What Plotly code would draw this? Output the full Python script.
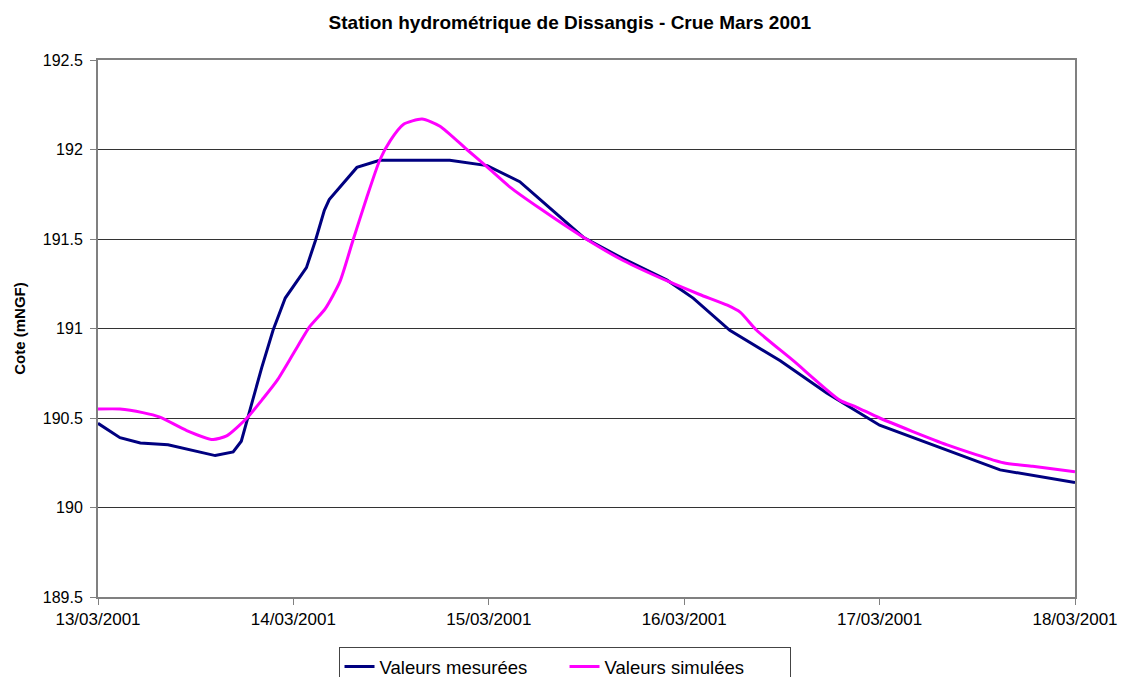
import pandas as pd
import plotly.graph_objects as go

# Hours elapsed since 13/03/2001 00:00 and water level (m NGF)
mes_hours = [0, 2.7, 5.2, 8.6, 14.4, 16.6, 17.6, 19.0, 20.1, 21.5, 23.0, 25.6, 26.7,
             27.8, 28.4, 31.8, 34.6, 43.2, 47.8, 51.8, 54.3, 59.6, 64.5, 69.9, 73.1,
             77.6, 83.8, 89.5, 96.0, 110.8, 120.0]
mes_values = [190.47, 190.39, 190.36, 190.35, 190.29, 190.31, 190.37, 190.60, 190.78,
              190.99, 191.17, 191.34, 191.49, 191.66, 191.72, 191.90, 191.94, 191.94,
              191.91, 191.82, 191.72, 191.51, 191.39, 191.27, 191.17, 190.99, 190.82,
              190.64, 190.46, 190.21, 190.14]

sim_hours = [0, 2.7, 5.5, 7.6, 10.9, 14.1, 15.8, 18.3, 20.3, 22.0, 24.0, 26.0, 27.9,
             29.7, 31.3, 33.0, 34.6, 35.9, 37.5, 39.8, 42.0, 45.3, 48.1, 50.6, 54.3,
             59.6, 64.5, 70.2, 73.9, 77.3, 78.9, 80.9, 85.4, 91.1, 93.2, 96.0, 104.3,
             111.2, 114.8, 120.0]
sim_values = [190.55, 190.55, 190.53, 190.505, 190.43, 190.38, 190.40, 190.50, 190.61,
              190.71, 190.86, 191.01, 191.11, 191.26, 191.49, 191.73, 191.94, 192.05,
              192.14, 192.17, 192.13, 192.00, 191.89, 191.79, 191.67, 191.51, 191.38,
              191.26, 191.19, 191.13, 191.09, 190.99, 190.82, 190.60, 190.56, 190.50,
              190.35, 190.25, 190.23, 190.20]

start = pd.Timestamp("2001-03-13 00:00")
mes_time = [start + pd.Timedelta(hours=h) for h in mes_hours]
sim_time = [start + pd.Timedelta(hours=h) for h in sim_hours]

FONT = "Liberation Sans, Arial, sans-serif"

fig = go.Figure()
fig.add_trace(go.Scatter(x=mes_time, y=mes_values, mode="lines",
                         name="Valeurs mesurées",
                         line=dict(color="#000080", width=3)))
fig.add_trace(go.Scatter(x=sim_time, y=sim_values, mode="lines",
                         name="Valeurs simulées",
                         line=dict(color="#FF00FF", width=3, shape="spline", smoothing=0.6)))

fig.update_layout(
    width=1124, height=677,
    paper_bgcolor="white", plot_bgcolor="white",
    margin=dict(l=98, r=49, t=60, b=80, autoexpand=False),
    font=dict(family=FONT, size=16, color="black"),
    title=dict(text="<b>Station hydrométrique de Dissangis - Crue Mars 2001</b>",
               x=0.507, xanchor="center", y=0.967, yanchor="middle",
               font=dict(family=FONT, size=19, color="black")),
    showlegend=True,
    legend=dict(orientation="h", x=0.4775, xanchor="center", y=-0.093, yanchor="top",
                bordercolor="#444444", borderwidth=1, bgcolor="white",
                font=dict(family=FONT, size=18.5, color="black"),
                entrywidth=180, itemwidth=30, tracegroupgap=0),
)

fig.update_xaxes(
    type="date",
    range=[pd.Timestamp("2001-03-13"), pd.Timestamp("2001-03-18")],
    dtick=86400000, tick0="2001-03-13",
    tickformat="%d/%m/%Y",
    showgrid=False, zeroline=False,
    showline=True, linecolor="#808080", linewidth=2, mirror=True,
    ticks="outside", ticklen=6, tickcolor="#808080", tickwidth=1,
    tickfont=dict(family=FONT, size=17, color="black"),
)
fig.update_yaxes(
    range=[189.5, 192.5], dtick=0.5, tick0=189.5,
    showgrid=True, gridcolor="#333333", gridwidth=1,
    zeroline=False,
    showline=True, linecolor="#808080", linewidth=2, mirror=True,
    ticks="outside", ticklen=6, tickcolor="#808080", tickwidth=1,
    ticklabelstandoff=4,
    tickfont=dict(family=FONT, size=16, color="black"),
    title=dict(text="<b>Cote (mNGF)</b>", standoff=14,
               font=dict(family=FONT, size=15, color="black")),
)

fig.write_html("out.html")
